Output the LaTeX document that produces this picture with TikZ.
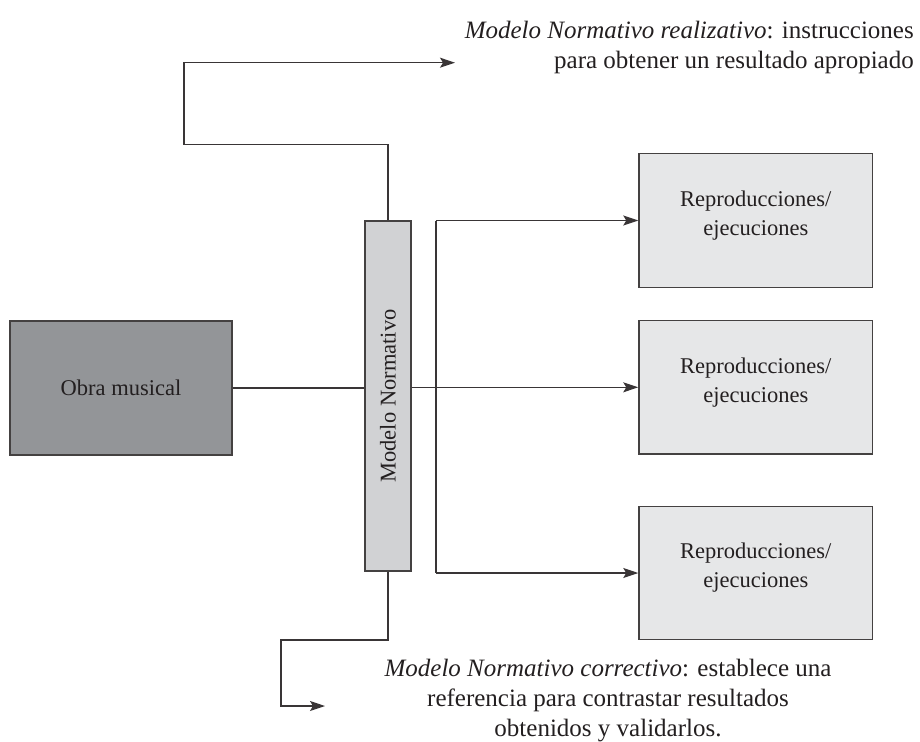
\documentclass[tikz,border=0pt]{standalone}
\usepackage{fontspec}
\setmainfont{Liberation Serif}
\usetikzlibrary{arrows.meta}
\definecolor{ink}{HTML}{231F20}
\definecolor{darkfill}{HTML}{939598}
\definecolor{midfill}{HTML}{D1D2D4}
\definecolor{lightfill}{HTML}{E6E7E8}
\tikzset{
  txt/.style={font=\fontsize{22.5}{29}\selectfont, text=ink, inner sep=0pt},
  note/.style={font=\fontsize{25}{30}\selectfont, text=ink, inner sep=0pt},
  boxbase/.style={draw=ink!85, line width=1.4pt, inner sep=0pt},
  obrabox/.style={boxbase, fill=darkfill, minimum width=222pt, minimum height=134pt},
  mnbox/.style={boxbase, fill=midfill, minimum width=46pt, minimum height=350pt},
  repbox/.style={boxbase, fill=lightfill, minimum width=233.7pt, minimum height=133.5pt},
  conn/.style={draw=ink!90, line width=1.2pt},
  arr/.style={conn, -{Stealth[length=15pt, width=10pt, inset=3pt]}},
}
\begin{document}
\begin{tikzpicture}[x=1pt, y=-1pt]
\useasboundingbox (0,0) rectangle (920,741);

% boxes
\node[obrabox] (obra) at (121,388) {};
\node[txt] (obrat) at (obra.center) {Obra musical};

\node[mnbox] (mn) at (388,396) {};
\node[txt, rotate=90] (mnt) at (mn.center) {Modelo Normativo};

\node[repbox] (r1) at (755.8,220.5) {};
\node[repbox] (r2) at (755.8,387.3) {};
\node[repbox] (r3) at (755.8,573) {};
\node[txt, align=center, yshift=5pt] (r1t) at (r1.center) {Reproducciones/\\ejecuciones};
\node[txt, align=center, yshift=5pt] (r2t) at (r2.center) {Reproducciones/\\ejecuciones};
\node[txt, align=center, yshift=5pt] (r3t) at (r3.center) {Reproducciones/\\ejecuciones};

% main connections
\draw[conn] (obra.east) -- (mn.west |- obra.east);
\draw[arr] (mn.east |- r2.west) -- (r2.west);
\coordinate (bt) at (436,220.5);
\coordinate (bb) at (436,573);
\draw[conn] (bt) -- (bb);
\draw[arr] (bt) -- (r1.west);
\draw[arr] (bb) -- (r3.west);

% top connector
\coordinate (tc) at (184,144.7);
\coordinate (ttip) at (455,62.7);
\draw[arr] (mn.north) |- (tc) |- (ttip);

% bottom connector
\coordinate (bc) at (281,640);
\coordinate (btip) at (325,706);
\draw[arr] (mn.south) |- (bc) |- (btip);

% texts
\node[note, align=right, anchor=north east] (toptext) at (914,21)
  {\textit{Modelo Normativo realizativo}: instrucciones\\para obtener un resultado apropiado};
\node[note, align=center, anchor=north] (bottext) at (608,659)
  {\textit{Modelo Normativo correctivo}: establece una\\referencia para contrastar resultados\\obtenidos y validarlos.};
\end{tikzpicture}
\end{document}
